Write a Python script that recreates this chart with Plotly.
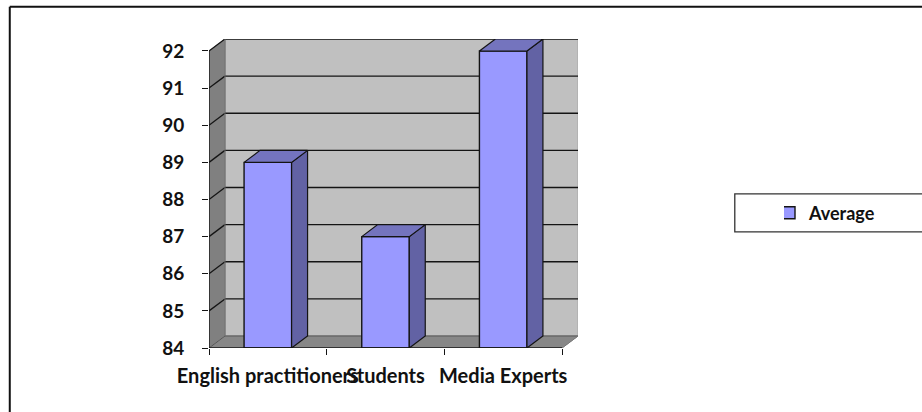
import plotly.graph_objects as go

categories = ["English practitioners", "Students", "Media Experts"]
average = [89, 87, 92]
y_ticks = [84, 85, 86, 87, 88, 89, 90, 91, 92]
series_name = "Average"

W, H = 922, 412
L, R, T, B = 208.5, 578.0, 39.0, 348.3
y_min, y_max = y_ticks[0], y_ticks[-1]
unit_x = 118.0          # px per category
unit_y = 37.2           # px per y unit
dx = 16.0 / unit_x      # 3D depth in data units
dy = 12.0 / unit_y
bar_w = 0.404
n = len(categories)
FONT = "Lato, Carlito, Calibri, sans-serif"
LINE = "#141414"

def px(x):
    return (x - L) / (R - L)

def py(y):
    return (B - y) / (B - T)

shapes = []
def poly(xs, ys, fill, line=None, width=0):
    path = "M " + " L ".join(f"{a},{b}" for a, b in zip(xs, ys)) + " Z"
    shapes.append(dict(type="path", path=path, xref="x", yref="y", fillcolor=fill,
                       line=dict(color=line or fill, width=width), layer="below"))

def seg(x0, y0, x1, y1, color=LINE, width=1.3, xref="x", yref="y", layer="below"):
    shapes.append(dict(type="line", x0=x0, y0=y0, x1=x1, y1=y1, xref=xref, yref=yref,
                       line=dict(color=color, width=width), layer=layer))

# back wall, side wall, floor
poly([dx, n + dx, n + dx, dx], [y_min + dy, y_min + dy, y_max + dy, y_max + dy], "#C0C0C0", "#A6A6A6", 1)
poly([0, dx, dx, 0], [y_min, y_min + dy, y_max + dy, y_max], "#808080", "#8C8C8C", 1)
poly([0, n, n + dx, dx], [y_min, y_min, y_min + dy, y_min + dy], "#878787", "#909090", 1)

# gridlines on the back and side walls
for v in y_ticks:
    if v > y_min:
        seg(0, v, dx, v + dy)
        seg(dx, v + dy, n + dx, v + dy)
seg(0, y_min, dx, y_min + dy, color="#555555", width=1)
seg(dx, y_min + dy, n + dx, y_min + dy, color="#555555", width=1)
seg(dx, y_min + dy, dx, y_max + dy, color="#6E6E6E", width=1)

# axis lines
seg(0, y_min, 0, y_max, width=1.4, layer="above")
seg(0, y_min, n, y_min, width=1.4, layer="above")
seg(n, y_min, n + dx, y_min + dy, color="#777777", width=1)

# outer frame and legend box (run past the right edge of the page)
seg(px(9), py(6.8), px(9), py(H + 5), color="#111111", width=2, xref="paper", yref="paper", layer="above")
seg(px(9), py(6.8), px(W + 5), py(6.8), color="#111111", width=2, xref="paper", yref="paper", layer="above")
shapes.append(dict(type="rect", xref="paper", yref="paper", x0=px(735), x1=px(W + 20), y0=py(194), y1=py(232),
                   fillcolor="#FFFFFF", line=dict(color="#333333", width=1.3), layer="below"))

fig = go.Figure()

xs = [i + 0.5 for i in range(n)]
fig.add_trace(go.Bar(x=xs, y=[v - y_min for v in average], base=y_min, width=bar_w, name=series_name,
                     marker=dict(color="#9999FF", line=dict(color=LINE, width=1.4)),
                     hoverinfo="skip", showlegend=True))

for c, v in zip(xs, average):
    x0, x1 = c - bar_w / 2, c + bar_w / 2
    fig.add_trace(go.Scatter(x=[x1, x1 + dx, x1 + dx, x1, x1], y=[y_min, y_min + dy, v + dy, v, y_min],
                             mode="lines", fill="toself", fillcolor="#6262A4",
                             line=dict(color=LINE, width=1.2), showlegend=False, hoverinfo="skip"))
    fig.add_trace(go.Scatter(x=[x0, x1, x1 + dx, x0 + dx, x0], y=[v, v, v + dy, v + dy, v],
                             mode="lines", fill="toself", fillcolor="#7474BE",
                             line=dict(color=LINE, width=1.2), showlegend=False, hoverinfo="skip"))

fig.update_layout(
    width=W, height=H,
    margin=dict(l=L, r=W - R, t=T, b=H - B, pad=0, autoexpand=False),
    paper_bgcolor="#FFFFFF", plot_bgcolor="#FFFFFF",
    font=dict(family=FONT, size=15, color="#111111"),
    shapes=shapes,
    legend=dict(xref="container", yref="container", x=(784 / W), y=1 - 213 / H, xanchor="left", yanchor="middle",
                bgcolor="rgba(0,0,0,0)", borderwidth=0, itemwidth=30, indentation=-15,
                font=dict(family=FONT, size=18, weight="bold", color="#111111")),
    xaxis=dict(range=[0, n + dx], tickvals=xs, ticktext=categories, ticks="", showgrid=False, zeroline=False,
               showline=False, ticklabelstandoff=14, tickangle=0, automargin=False,
               tickfont=dict(family=FONT, size=20, weight="bold", color="#111111"),
               minor=dict(tickvals=list(range(n + 1)), ticks="outside", ticklen=6, tickwidth=1.2,
                          tickcolor=LINE, showgrid=False)),
    yaxis=dict(range=[y_min, y_max + dy], tickvals=y_ticks, ticks="outside", ticklen=6, tickwidth=1.2,
               tickcolor=LINE, showgrid=False, zeroline=False, showline=False, ticklabelstandoff=14,
               automargin=False,
               tickfont=dict(family=FONT, size=19, weight="bold", color="#111111")),
)

fig.write_html("out.html", config=dict(displayModeBar=False),
               post_script="document.body.style.margin='0';")
